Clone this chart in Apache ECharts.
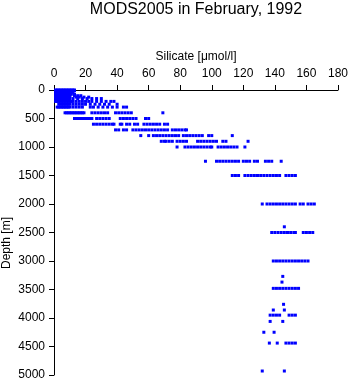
<!DOCTYPE html>
<html>
<head>
<meta charset="utf-8">
<script src="https://cdn.jsdelivr.net/npm/echarts@6/dist/echarts.min.js"></script>
<style>
html,body{margin:0;padding:0;background:#fff;}
#chart{width:351px;height:384px;}
</style>
</head>
<body>
<div id="chart"></div>
<script>
const titleText = 'MODS2005 in February, 1992';
const xName = 'Silicate [μmol/l]';
const yName = 'Depth [m]';
const xTicks = [0, 20, 40, 60, 80, 100, 120, 140, 160, 180];
const yTicks = [0, 500, 1000, 1500, 2000, 2500, 3000, 3500, 4000, 4500, 5000];

const depthLevels = [0, 10, 20, 30, 50, 75, 100, 125, 150, 200, 250, 300, 400, 500, 600, 700, 800, 900, 1000, 1250, 1500, 2000, 2400, 2500, 3000, 3270, 3370, 3480, 3760, 3860, 3950, 4060, 4250, 4440, 4930];

const silicateAtLevel = [
  [1,2,3,4,5,6,7,8,9,10,11,12,13],
  [1,2,3,4,5,6,7,8,9,10,11,12,13],
  [1,2,3,4,5,6,7,8,9,10,11,12],
  [1,2,3,4,5,6,7,8,9,10,11,12],
  [1,2,3,4,5,6,7,8,9,10,11],
  [1,2,3,4,5,6,7,8,9,10,11,13],
  [1,2,3,4,5,6,7,8,9,10,13,15,17],
  [1,2,3,4,5,6,7,8,9,10,14,16,19,22],
  [1,2,3,4,5,6,7,8,9,10,12,15,18,21,24,27,30],
  [1,2,3,4,5,6,7,8,9,10,11,12,14,16,18,20,22,24,27,30,33,36,38],
  [3,4,5,6,7,8,9,10,12,14,16,18,20,23,26,29,32,35,40],
  [2,3,4,5,6,7,8,9,10,12,14,16,18,23,25,28,31,34,37,40,44,46],
  [7,8,9,10,11,12,13,14,15,16,17,18,19,24,26,28,30,32,34,39,41,43,45,47,49,69],
  [13,14,15,16,17,18,19,20,21,22,23,24,27,29,31,33,35,42,44,46,48,50,52,58,60],
  [25,27,29,31,33,35,37,38,42,43,46,48,51,53,57,59,61,63,65,67,70,72],
  [39,41,44,46,50,52,54,56,58,60,62,64,66,68,70,72,75,77,79,81,83,84],
  [55,60,63,65,67,69,71,73,75,77,79,82,84,86,88,90,92,94,98,100,113],
  [68,70,71,73,75,78,80,82,84,91,93,95,97,99,101,103,107,109,123],
  [78,83,85,87,89,91,93,95,97,99,100,104,106,108,110,112,114,116,121],
  [96,103,105,107,109,111,113,115,117,120,122,124,127,129,134,136,138,144],
  [113,115,117,121,123,125,127,129,131,133,135,137,139,141,143,147,149,151,153],
  [132,135,137,139,141,143,145,147,149,151,153,156,158,161,163,165],
  [146],
  [138,140,142,144,146,148,150,152,153,158,160,162,164],
  [139,141,143,145,147,149,151,153,155,157,159,161],
  [145],
  [144.5],
  [139,141,143,145,147,149,151,153,155],
  [145.5],
  [139,146],
  [137,139,141,143,149,151,153],
  [137,145],
  [133,139.5],
  [136.5,141.5,147,149,151,153],
  [132,146]
];

const points = [];
depthLevels.forEach((d, i) => {
  silicateAtLevel[i].forEach(s => points.push([s, d]));
});

const FONT = 'Liberation Sans, Arial, Helvetica, sans-serif';
const chart = echarts.init(document.getElementById('chart'), null, {renderer: 'canvas'});
chart.setOption({
  animation: false,
  backgroundColor: '#ffffff',
  title: {
    text: titleText,
    left: 196,
    top: 2,
    padding: 0,
    textAlign: 'center',
    textStyle: {fontFamily: FONT, fontSize: 16, fontWeight: 'normal', color: '#000'}
  },
  grid: {left: 54, top: 90, width: 285, height: 285, containLabel: false},
  xAxis: {
    type: 'value',
    position: 'top',
    min: xTicks[0],
    max: xTicks[xTicks.length - 1],
    interval: xTicks[1] - xTicks[0],
    name: xName,
    nameLocation: 'middle',
    nameGap: 25,
    nameTextStyle: {fontFamily: FONT, fontSize: 12, color: '#000', verticalAlign: 'bottom'},
    axisLine: {show: true, lineStyle: {color: '#000', width: 1}},
    axisTick: {show: true, length: 5, lineStyle: {color: '#000'}},
    axisLabel: {fontFamily: FONT, fontSize: 12, color: '#000', margin: 10, formatter: v => String(v)},
    splitLine: {show: false}
  },
  yAxis: {
    type: 'value',
    inverse: true,
    min: yTicks[0],
    max: yTicks[yTicks.length - 1],
    interval: yTicks[1] - yTicks[0],
    axisLine: {show: true, lineStyle: {color: '#000', width: 1}},
    axisTick: {show: true, length: 5, lineStyle: {color: '#000'}},
    axisLabel: {fontFamily: FONT, fontSize: 12, color: '#000', margin: 9, formatter: v => String(v)},
    splitLine: {show: false}
  },
  graphic: [{
    type: 'text',
    x: 7,
    y: 243,
    rotation: Math.PI / 2,
    style: {text: yName, font: '12px ' + FONT, fill: '#000', align: 'center', verticalAlign: 'middle'}
  }],
  series: [{
    type: 'scatter',
    data: points,
    symbol: 'rect',
    symbolSize: [3, 3],
    itemStyle: {color: '#0000ff', opacity: 1},
    emphasis: {disabled: true}
  }]
});
</script>
</body>
</html>
